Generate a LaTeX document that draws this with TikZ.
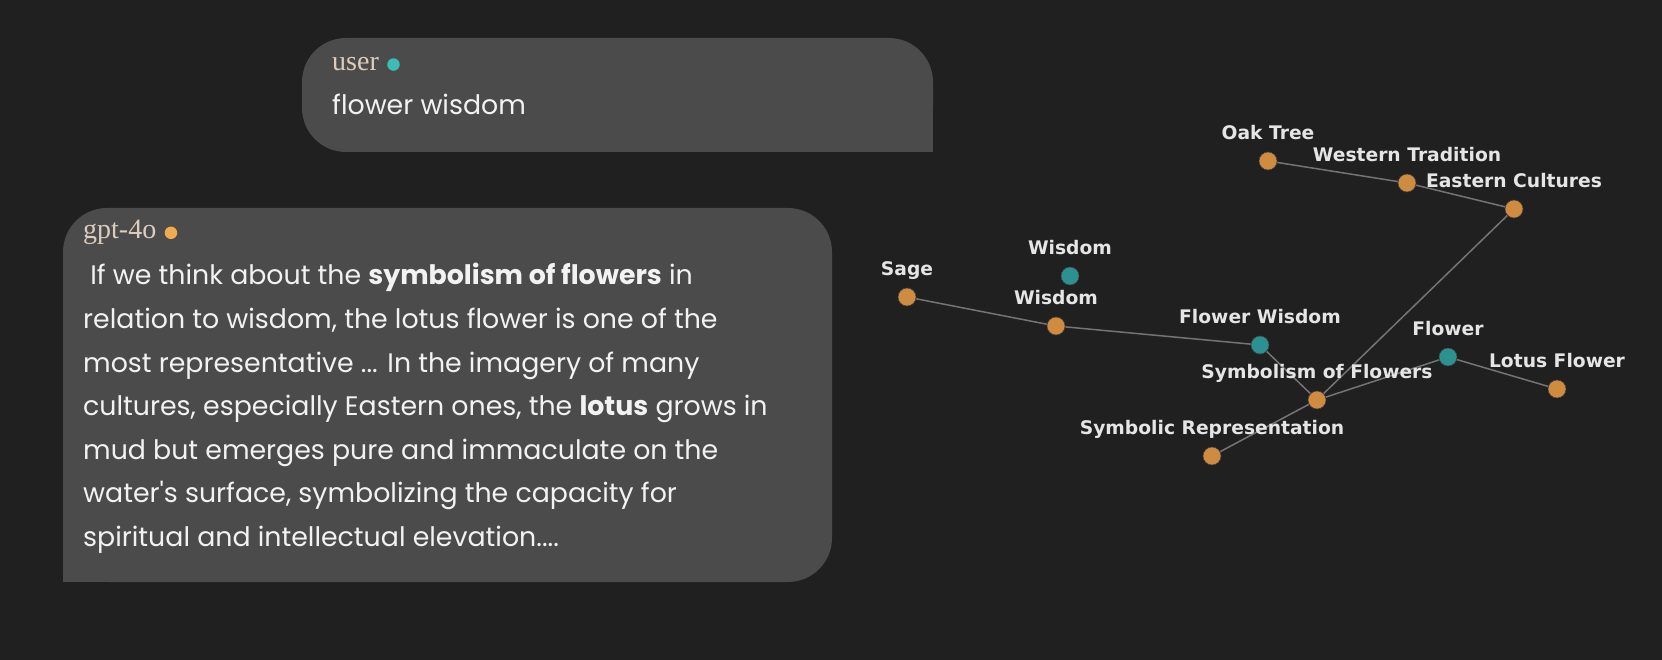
\documentclass[tikz,border=0pt]{standalone}
\usepackage{fontspec}
\usetikzlibrary{positioning,backgrounds}
\newfontfamily\chatfont{Poppins}
\newfontfamily\graphfont{DejaVu Sans}
\newfontfamily\whofont{Liberation Serif}
\definecolor{bg}{HTML}{202020}
\definecolor{bubble}{HTML}{4B4B4B}
\definecolor{dotorange}{HTML}{CF8C40}
\definecolor{dotteal}{HTML}{2C9191}
\definecolor{userteal}{HTML}{3BBDB5}
\definecolor{botorange}{HTML}{F2AA50}
\definecolor{who}{HTML}{DCCDBE}
\definecolor{edge}{HTML}{747474}

\begin{document}
\begin{tikzpicture}[x=1pt,y=-1pt,
  ent/.style={circle,minimum size=18pt,inner sep=0pt,draw=black!75,line width=0.6pt,fill=dotorange},
  key/.style={ent,fill=dotteal},
  lbl/.style={font=\graphfont\bfseries\fontsize{18.7}{19}\selectfont,text=white!90!black,inner sep=0pt,text height=14pt,text depth=4pt,label distance=8pt},
  link/.style={draw=edge,line width=1.5pt},
  said/.style={font=\chatfont\fontsize{26.8}{30}\selectfont,text=white!95!black,inner sep=0pt,anchor=base west},
  whostyle/.style={font=\whofont\fontsize{28}{30}\selectfont,text=who,inner sep=0pt,anchor=base west},
  spot/.style={circle,inner sep=0pt,minimum size=12.5pt}]
	\begin{pgfonlayer}{background}
	\fill[bg] (0,0) rectangle (1662,660);
	\end{pgfonlayer}
	\useasboundingbox (0,0) rectangle (1662,660);
	% chat bubbles
	\fill[bubble,rounded corners=44pt] (302,38) rectangle (933,152);
	\fill[bubble] (880,110) rectangle (933,152);
	\fill[bubble,rounded corners=44pt] (63,208) rectangle (832,582);
	\fill[bubble] (63,540) rectangle (110,582);
	\node[whostyle] (usr) at (332,71) {user};
	\node[spot,fill=userteal,right=8pt of usr] (usrdot) {};
	\node[said] (ask) at (332,115) {flower wisdom};
	\node[whostyle] (bot) at (83,239) {gpt-4o};
	\node[spot,fill=botorange,right=8pt of bot] (botdot) {};
	\node[said] (line1) at (83,285) {\ If we think about the \textbf{symbolism of flowers} in};
	\node[said] (line2) at (83,328.5) {relation to wisdom, the lotus flower is one of the};
	\node[said] (line3) at (83,372) {most representative ... In the imagery of many};
	\node[said] (line4) at (83,415.5) {cultures, especially Eastern ones, the \textbf{lotus} grows in};
	\node[said] (line5) at (83,459) {mud but emerges pure and immaculate on the};
	\node[said] (line6) at (83,502.5) {water's surface, symbolizing the capacity for};
	\node[said] (line7) at (83,546) {spiritual and intellectual elevation....};
	% concept graph
	\node[ent,label={[lbl]above:Oak Tree}] (oak) at (1268,161) {};
	\node[ent,label={[lbl]above:Western Tradition}] (west) at (1407,183) {};
	\node[ent,label={[lbl]above:Eastern Cultures}] (east) at (1514,209) {};
	\node[key,label={[lbl]above:Wisdom}] (wisdomkey) at (1070,276) {};
	\node[ent,label={[lbl]above:Sage}] (sage) at (907,297) {};
	\node[ent,label={[lbl]above:Wisdom}] (wisdom) at (1056,326) {};
	\node[key,label={[lbl]above:Flower Wisdom}] (fwisdom) at (1260,345) {};
	\node[key,label={[lbl]above:Flower}] (flower) at (1448,357) {};
	\node[ent,label={[lbl]above:Lotus Flower}] (lotus) at (1557,389) {};
	\node[ent,label={[lbl]above:Symbolism of Flowers}] (symb) at (1317,400) {};
	\node[ent,label={[lbl]above:Symbolic Representation}] (repr) at (1212,456) {};
	\begin{pgfonlayer}{background}
	\draw[link] (oak) -- (west);
	\draw[link] (west) -- (east);
	\draw[link] (east) -- (symb);
	\draw[link] (sage) -- (wisdom);
	\draw[link] (wisdom) -- (fwisdom);
	\draw[link] (fwisdom) -- (symb);
	\draw[link] (symb) -- (flower);
	\draw[link] (flower) -- (lotus);
	\draw[link] (symb) -- (repr);
	\end{pgfonlayer}
\end{tikzpicture}
\end{document}
